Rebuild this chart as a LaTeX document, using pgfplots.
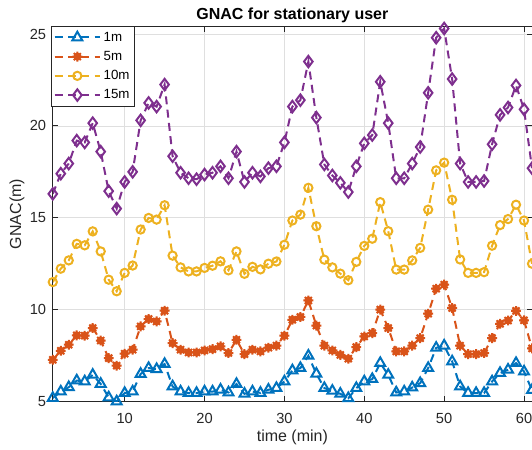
\documentclass[border=0pt]{standalone}
\usepackage{pgfplots}
\usepackage{pgfplotstable}
\pgfplotsset{compat=1.18}
\usepackage{fontspec}
\setmainfont{Liberation Sans}
\definecolor{c1}{rgb}{0,0.447,0.741}
\definecolor{c2}{rgb}{0.85,0.325,0.098}
\definecolor{c3}{rgb}{0.929,0.694,0.125}
\definecolor{c4}{rgb}{0.494,0.184,0.556}
\definecolor{axc}{rgb}{0.15,0.15,0.15}
\definecolor{gridc}{rgb}{0.873,0.873,0.873}

\pgfdeclareplotmark{blob}{%
  \pgfpathcircle{\pgfpointorigin}{0.6\pgfplotmarksize}%
  \pgfusepathqfillstroke
  \pgfpathmoveto{\pgfqpoint{0pt}{\pgfplotmarksize}}%
  \pgfpathlineto{\pgfqpoint{0pt}{-\pgfplotmarksize}}%
  \pgfpathmoveto{\pgfqpoint{\pgfplotmarksize}{0pt}}%
  \pgfpathlineto{\pgfqpoint{-\pgfplotmarksize}{0pt}}%
  \pgfpathmoveto{\pgfqpoint{0.7071\pgfplotmarksize}{0.7071\pgfplotmarksize}}%
  \pgfpathlineto{\pgfqpoint{-0.7071\pgfplotmarksize}{-0.7071\pgfplotmarksize}}%
  \pgfpathmoveto{\pgfqpoint{0.7071\pgfplotmarksize}{-0.7071\pgfplotmarksize}}%
  \pgfpathlineto{\pgfqpoint{-0.7071\pgfplotmarksize}{0.7071\pgfplotmarksize}}%
  \pgfusepathqstroke
}

\pgfplotstableread{
x a b c d
1 5.19 7.27 11.50 16.30
2 5.54 7.76 12.23 17.40
3 5.78 8.09 12.68 17.95
4 6.14 8.60 13.58 19.20
5 6.09 8.58 13.50 19.10
6 6.45 9.00 14.26 20.15
7 5.96 8.32 13.17 18.60
8 5.22 7.36 11.63 16.45
9 5.00 6.95 11.00 15.50
10 5.46 7.60 12.00 16.95
11 5.54 7.82 12.40 17.50
12 6.50 9.09 14.36 20.30
13 6.82 9.49 14.99 21.25
14 6.76 9.36 14.90 21.05
15 7.04 9.94 15.68 22.25
16 5.82 8.18 12.94 18.35
17 5.54 7.82 12.30 17.45
18 5.46 7.67 12.08 17.15
19 5.46 7.67 12.08 17.10
20 5.54 7.78 12.27 17.35
21 5.54 7.85 12.39 17.45
22 5.64 8.00 12.63 17.80
23 5.49 7.64 12.14 17.15
24 5.95 8.36 13.17 18.60
25 5.42 7.58 11.95 16.95
26 5.54 7.82 12.33 17.45
27 5.47 7.73 12.19 17.25
28 5.64 7.93 12.50 17.70
29 5.73 8.04 12.62 17.80
30 6.09 8.58 13.53 19.10
31 6.69 9.45 14.85 21.05
32 6.82 9.60 15.17 21.40
33 7.49 10.50 16.63 23.50
34 6.51 9.13 14.54 20.45
35 5.73 8.04 12.72 17.90
36 5.58 7.78 12.30 17.30
37 5.42 7.54 11.96 16.90
38 5.18 7.33 11.60 16.40
39 5.73 7.96 12.60 17.80
40 6.09 8.54 13.47 19.05
41 6.22 8.72 13.86 19.50
42 7.09 10.00 15.85 22.40
43 6.45 9.00 14.27 20.15
44 5.49 7.73 12.18 17.15
45 5.54 7.73 12.18 17.15
46 5.76 8.04 12.68 17.95
47 6.00 8.45 13.36 18.85
48 6.82 9.78 15.44 21.80
49 7.92 11.14 17.58 24.80
50 8.04 11.36 18.00 25.30
51 7.18 10.09 15.98 22.55
52 5.82 8.04 12.73 17.95
53 5.46 7.58 12.00 16.95
54 5.46 7.58 12.00 16.95
55 5.46 7.64 12.04 17.00
56 6.09 8.45 13.48 19.00
57 6.55 9.23 14.60 20.60
58 6.73 9.41 14.93 21.00
59 7.09 9.93 15.71 22.20
60 6.63 9.42 14.85 20.90
61 5.62 7.89 12.50 17.70
}\data

\begin{document}
\begin{tikzpicture}
\begin{axis}[
  scale only axis, width=359.55pt, height=281.25pt,
  xmin=1, xmax=61, ymin=5, ymax=25.4,
  xtick={10,20,30,40,50,60}, ytick={5,10,15,20,25},
  grid=major, major grid style={gridc, line width=0.5pt},
  axis line style={axc, line width=0.6pt},
  tick style={axc, line width=0.6pt},
  major tick length=4pt,
  tick label style={font=\fontsize{11}{13}\selectfont, text=axc},
  /pgf/number format/assume math mode=true,
  yticklabel style={xshift=-1.5pt},
  xticklabel style={yshift=-5.5pt},
  xlabel={time (min)}, ylabel={GNAC(m)},
  label style={font=\fontsize{12}{14}\selectfont, text=axc},
  xlabel style={at={(axis description cs:0.5,-0.0967)}, anchor=center},
  ylabel style={at={(axis description cs:-0.0748,0.5)}, anchor=center},
  title={GNAC for stationary user},
  every axis title shift=0pt,
  title style={at={(axis description cs:0.5,1.0178)}, anchor=base, font=\bfseries\fontsize{12}{14}\selectfont},
  legend style={at={(axis description cs:-0.003,1.003)}, anchor=north west, draw=axc, line width=0.5pt, fill=white,
    font=\fontsize{10}{12}\selectfont, inner xsep=1.5pt, inner ysep=2.5pt, row sep=2pt, cells={anchor=west}},
  legend image code/.code={\draw[#1, mark repeat=2, mark phase=2] plot coordinates {(0pt,0pt) (17pt,0pt) (34pt,0pt)};},
  every axis plot/.append style={line width=1.5pt, dash pattern=on 6pt off 4pt},
  mark options={solid},
]
\addplot[c1, mark=triangle, mark size=4.3pt] table[x=x,y=a]{\data};
\addlegendentry{1m}
\addplot[c2, mark=blob, mark size=3.7pt, mark options={solid, fill=c2}] table[x=x,y=b]{\data};
\addlegendentry{5m}
\addplot[c3, mark=o, mark size=3.1pt] table[x=x,y=c]{\data};
\addlegendentry{10m}
\addplot[c4, mark=diamond, mark size=4.3pt] table[x=x,y=d]{\data};
\addlegendentry{15m}
\end{axis}
\pgfresetboundingbox
\path ([xshift=-39.6pt,yshift=-36.2pt]current axis.south west) rectangle ([yshift=20pt]current axis.north east);
\end{tikzpicture}
\end{document}
